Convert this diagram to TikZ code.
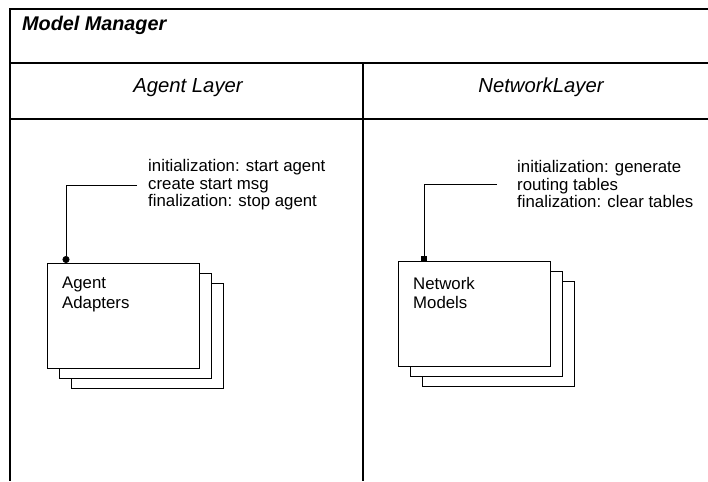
\documentclass[tikz,border=0pt]{standalone}
\usepackage{fontspec}
\setmainfont{Liberation Sans}
\usetikzlibrary{arrows.meta}
\newcommand{\pageStack}[3]{%%
  \foreach \k in {2,1,0}{%%
    \node[pageBox] (#1\k) at (#2+\k*12,#3+\k*10) {};%%
  }%%
}

\begin{document}
\begin{tikzpicture}[%%
  x=1pt,y=-1pt,%%
  frameLine/.style={line width=1.1pt},%%
  pageBox/.style={draw,fill=white,line width=0.9pt,anchor=north west,%%
    minimum width=152pt,minimum height=105pt,inner sep=0pt},%%
  pageText/.style={anchor=north west,inner sep=0pt,align=left,%%
    font=\fontsize{16.8}{19.3}\selectfont},%%
  noteText/.style={anchor=west,inner ysep=0pt,align=left,%%
    font=\fontsize{16.8}{17.5}\selectfont},%%
  headText/.style={anchor=base,inner sep=0pt,%%
    font=\fontsize{20.3}{24}\selectfont\itshape},%%
  pinLine/.style={line width=0.8pt}%%
]
\useasboundingbox (0,0) rectangle (708,481);
%%
%% Frame of the manager and its two layers.
\draw[frameLine] (708,9) -- (10,9) -- (10,481);
\draw[frameLine] (10,63) -- (708,63);
\draw[frameLine] (10,119) -- (708,119);
\draw[frameLine] (363,63) -- (363,119);
\draw[line width=2pt] (363,119) -- (363,481);
\node[anchor=base west,inner sep=0pt,%%
  font=\fontsize{19.8}{23}\selectfont\bfseries\itshape] (manager) at (22,31) {Model Manager};
\node[headText] (agentHead) at (188,93) {Agent Layer};
\node[headText] (netHead) at (541,93) {NetworkLayer};
%%
%% Agent layer.
\pageStack{agentA}{47}{263}
\node[pageText] (agentLabel) at (62,277) {Agent\\Adapters};
\coordinate (agentPin) at ([xshift=19pt]agentA0.north west);
\node[noteText,inner xsep=11pt] (agentNote) at (137,185)
  {initialization: start agent\\create start msg\\finalization: stop agent};
\draw[pinLine,-{Circle[length=7pt]}] (agentNote.west) -| (agentPin);
%%
%% Network layer.
\pageStack{netA}{398}{261}
\node[pageText] (netLabel) at (413,277) {Network\\Models};
\coordinate (netPin) at ([xshift=26pt]netA0.north west);
\node[noteText,inner xsep=20pt] (netNote) at (497,184)
  {initialization: generate\\routing tables\\finalization: clear tables};
\draw[pinLine,-{Square[length=5.5pt]}] (netNote.west) -| (netPin);
\end{tikzpicture}
\end{document}
